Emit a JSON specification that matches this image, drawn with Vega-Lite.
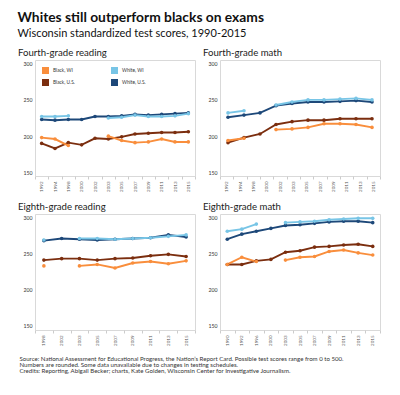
{
  "$schema": "https://vega.github.io/schema/vega-lite/v6.json",
  "padding": {"left": 17, "top": 11, "right": 5, "bottom": 5},
  "background": "white",
  "title": {
    "text": ["Source: National Assessment for Educational Progress, the Nation’s Report Card. Possible test scores range from 0 to 500.", "Numbers are rounded. Some data unavailable due to changes in testing schedules.", "Credits: Reporting, Abigail Becker; charts, Kate Golden, Wisconsin Center for Investigative Journalism."],
    "orient": "bottom", "anchor": "start", "fontSize": 6.1, "lineHeight": 5.8, "fontWeight": "normal", "color": "#333", "offset": 10, "dx": 2
  },
  "data": {"values": [
    {"panel":"4R","group":"Black, U.S.","year":1992,"score":190},{"panel":"4R","group":"Black, U.S.","year":1994,"score":183},{"panel":"4R","group":"Black, U.S.","year":1998,"score":191},{"panel":"4R","group":"Black, U.S.","year":2000,"score":188},{"panel":"4R","group":"Black, U.S.","year":2002,"score":197},{"panel":"4R","group":"Black, U.S.","year":2003,"score":196},{"panel":"4R","group":"Black, U.S.","year":2005,"score":199},{"panel":"4R","group":"Black, U.S.","year":2007,"score":203},{"panel":"4R","group":"Black, U.S.","year":2009,"score":204},{"panel":"4R","group":"Black, U.S.","year":2011,"score":205},{"panel":"4R","group":"Black, U.S.","year":2013,"score":205},{"panel":"4R","group":"Black, U.S.","year":2015,"score":206},
    {"panel":"4R","group":"White, U.S.","year":1992,"score":223},{"panel":"4R","group":"White, U.S.","year":1994,"score":222},{"panel":"4R","group":"White, U.S.","year":1998,"score":223},{"panel":"4R","group":"White, U.S.","year":2000,"score":223},{"panel":"4R","group":"White, U.S.","year":2002,"score":227},{"panel":"4R","group":"White, U.S.","year":2003,"score":227},{"panel":"4R","group":"White, U.S.","year":2005,"score":228},{"panel":"4R","group":"White, U.S.","year":2007,"score":230},{"panel":"4R","group":"White, U.S.","year":2009,"score":229},{"panel":"4R","group":"White, U.S.","year":2011,"score":230},{"panel":"4R","group":"White, U.S.","year":2013,"score":231},{"panel":"4R","group":"White, U.S.","year":2015,"score":232},
    {"panel":"4R","group":"Black, WI","year":1992,"score":198},{"panel":"4R","group":"Black, WI","year":1994,"score":196},{"panel":"4R","group":"Black, WI","year":1998,"score":187},{"panel":"4R","group":"Black, WI","year":2000,"score":null},{"panel":"4R","group":"Black, WI","year":2002,"score":null},{"panel":"4R","group":"Black, WI","year":2003,"score":200},{"panel":"4R","group":"Black, WI","year":2005,"score":194},{"panel":"4R","group":"Black, WI","year":2007,"score":191},{"panel":"4R","group":"Black, WI","year":2009,"score":192},{"panel":"4R","group":"Black, WI","year":2011,"score":196},{"panel":"4R","group":"Black, WI","year":2013,"score":192},{"panel":"4R","group":"Black, WI","year":2015,"score":192},
    {"panel":"4R","group":"White, WI","year":1992,"score":227},{"panel":"4R","group":"White, WI","year":1994,"score":227},{"panel":"4R","group":"White, WI","year":1998,"score":228},{"panel":"4R","group":"White, WI","year":2000,"score":null},{"panel":"4R","group":"White, WI","year":2002,"score":null},{"panel":"4R","group":"White, WI","year":2003,"score":225},{"panel":"4R","group":"White, WI","year":2005,"score":226},{"panel":"4R","group":"White, WI","year":2007,"score":229},{"panel":"4R","group":"White, WI","year":2009,"score":227},{"panel":"4R","group":"White, WI","year":2011,"score":227},{"panel":"4R","group":"White, WI","year":2013,"score":228},{"panel":"4R","group":"White, WI","year":2015,"score":231},
    {"panel":"4M","group":"Black, U.S.","year":1992,"score":191},{"panel":"4M","group":"Black, U.S.","year":1996,"score":198},{"panel":"4M","group":"Black, U.S.","year":2000,"score":203},{"panel":"4M","group":"Black, U.S.","year":2003,"score":216},{"panel":"4M","group":"Black, U.S.","year":2005,"score":220},{"panel":"4M","group":"Black, U.S.","year":2007,"score":222},{"panel":"4M","group":"Black, U.S.","year":2009,"score":222},{"panel":"4M","group":"Black, U.S.","year":2011,"score":224},{"panel":"4M","group":"Black, U.S.","year":2013,"score":224},{"panel":"4M","group":"Black, U.S.","year":2015,"score":224},
    {"panel":"4M","group":"White, U.S.","year":1992,"score":226},{"panel":"4M","group":"White, U.S.","year":1996,"score":229},{"panel":"4M","group":"White, U.S.","year":2000,"score":232},{"panel":"4M","group":"White, U.S.","year":2003,"score":242},{"panel":"4M","group":"White, U.S.","year":2005,"score":245},{"panel":"4M","group":"White, U.S.","year":2007,"score":247},{"panel":"4M","group":"White, U.S.","year":2009,"score":247},{"panel":"4M","group":"White, U.S.","year":2011,"score":248},{"panel":"4M","group":"White, U.S.","year":2013,"score":249},{"panel":"4M","group":"White, U.S.","year":2015,"score":247},
    {"panel":"4M","group":"Black, WI","year":1992,"score":194},{"panel":"4M","group":"Black, WI","year":1996,"score":197},{"panel":"4M","group":"Black, WI","year":2000,"score":null},{"panel":"4M","group":"Black, WI","year":2003,"score":209},{"panel":"4M","group":"Black, WI","year":2005,"score":210},{"panel":"4M","group":"Black, WI","year":2007,"score":212},{"panel":"4M","group":"Black, WI","year":2009,"score":217},{"panel":"4M","group":"Black, WI","year":2011,"score":217},{"panel":"4M","group":"Black, WI","year":2013,"score":216},{"panel":"4M","group":"Black, WI","year":2015,"score":212},
    {"panel":"4M","group":"White, WI","year":1992,"score":232},{"panel":"4M","group":"White, WI","year":1996,"score":235},{"panel":"4M","group":"White, WI","year":2000,"score":null},{"panel":"4M","group":"White, WI","year":2003,"score":243},{"panel":"4M","group":"White, WI","year":2005,"score":247},{"panel":"4M","group":"White, WI","year":2007,"score":250},{"panel":"4M","group":"White, WI","year":2009,"score":250},{"panel":"4M","group":"White, WI","year":2011,"score":251},{"panel":"4M","group":"White, WI","year":2013,"score":252},{"panel":"4M","group":"White, WI","year":2015,"score":250},
    {"panel":"8R","group":"Black, U.S.","year":1998,"score":241},{"panel":"8R","group":"Black, U.S.","year":2002,"score":243},{"panel":"8R","group":"Black, U.S.","year":2003,"score":243},{"panel":"8R","group":"Black, U.S.","year":2005,"score":241},{"panel":"8R","group":"Black, U.S.","year":2007,"score":243},{"panel":"8R","group":"Black, U.S.","year":2009,"score":244},{"panel":"8R","group":"Black, U.S.","year":2011,"score":247},{"panel":"8R","group":"Black, U.S.","year":2013,"score":249},{"panel":"8R","group":"Black, U.S.","year":2015,"score":246},
    {"panel":"8R","group":"White, U.S.","year":1998,"score":268},{"panel":"8R","group":"White, U.S.","year":2002,"score":271},{"panel":"8R","group":"White, U.S.","year":2003,"score":270},{"panel":"8R","group":"White, U.S.","year":2005,"score":269},{"panel":"8R","group":"White, U.S.","year":2007,"score":270},{"panel":"8R","group":"White, U.S.","year":2009,"score":271},{"panel":"8R","group":"White, U.S.","year":2011,"score":272},{"panel":"8R","group":"White, U.S.","year":2013,"score":276},{"panel":"8R","group":"White, U.S.","year":2015,"score":273},
    {"panel":"8R","group":"Black, WI","year":1998,"score":233},{"panel":"8R","group":"Black, WI","year":2002,"score":null},{"panel":"8R","group":"Black, WI","year":2003,"score":233},{"panel":"8R","group":"Black, WI","year":2005,"score":235},{"panel":"8R","group":"Black, WI","year":2007,"score":230},{"panel":"8R","group":"Black, WI","year":2009,"score":237},{"panel":"8R","group":"Black, WI","year":2011,"score":239},{"panel":"8R","group":"Black, WI","year":2013,"score":236},{"panel":"8R","group":"Black, WI","year":2015,"score":240},
    {"panel":"8R","group":"White, WI","year":1998,"score":269},{"panel":"8R","group":"White, WI","year":2002,"score":null},{"panel":"8R","group":"White, WI","year":2003,"score":271},{"panel":"8R","group":"White, WI","year":2005,"score":271},{"panel":"8R","group":"White, WI","year":2007,"score":270},{"panel":"8R","group":"White, WI","year":2009,"score":271},{"panel":"8R","group":"White, WI","year":2011,"score":272},{"panel":"8R","group":"White, WI","year":2013,"score":274},{"panel":"8R","group":"White, WI","year":2015,"score":276},
    {"panel":"8M","group":"Black, U.S.","year":1990,"score":235},{"panel":"8M","group":"Black, U.S.","year":1992,"score":235},{"panel":"8M","group":"Black, U.S.","year":1996,"score":240},{"panel":"8M","group":"Black, U.S.","year":2000,"score":242},{"panel":"8M","group":"Black, U.S.","year":2003,"score":252},{"panel":"8M","group":"Black, U.S.","year":2005,"score":254},{"panel":"8M","group":"Black, U.S.","year":2007,"score":259},{"panel":"8M","group":"Black, U.S.","year":2009,"score":260},{"panel":"8M","group":"Black, U.S.","year":2011,"score":262},{"panel":"8M","group":"Black, U.S.","year":2013,"score":263},{"panel":"8M","group":"Black, U.S.","year":2015,"score":260},
    {"panel":"8M","group":"White, U.S.","year":1990,"score":270},{"panel":"8M","group":"White, U.S.","year":1992,"score":277},{"panel":"8M","group":"White, U.S.","year":1996,"score":281},{"panel":"8M","group":"White, U.S.","year":2000,"score":285},{"panel":"8M","group":"White, U.S.","year":2003,"score":289},{"panel":"8M","group":"White, U.S.","year":2005,"score":290},{"panel":"8M","group":"White, U.S.","year":2007,"score":292},{"panel":"8M","group":"White, U.S.","year":2009,"score":294},{"panel":"8M","group":"White, U.S.","year":2011,"score":295},{"panel":"8M","group":"White, U.S.","year":2013,"score":295},{"panel":"8M","group":"White, U.S.","year":2015,"score":293},
    {"panel":"8M","group":"Black, WI","year":1990,"score":235},{"panel":"8M","group":"Black, WI","year":1992,"score":245},{"panel":"8M","group":"Black, WI","year":1996,"score":239},{"panel":"8M","group":"Black, WI","year":2000,"score":null},{"panel":"8M","group":"Black, WI","year":2003,"score":241},{"panel":"8M","group":"Black, WI","year":2005,"score":245},{"panel":"8M","group":"Black, WI","year":2007,"score":246},{"panel":"8M","group":"Black, WI","year":2009,"score":253},{"panel":"8M","group":"Black, WI","year":2011,"score":255},{"panel":"8M","group":"Black, WI","year":2013,"score":251},{"panel":"8M","group":"Black, WI","year":2015,"score":248},
    {"panel":"8M","group":"White, WI","year":1990,"score":281},{"panel":"8M","group":"White, WI","year":1992,"score":284},{"panel":"8M","group":"White, WI","year":1996,"score":291},{"panel":"8M","group":"White, WI","year":2000,"score":null},{"panel":"8M","group":"White, WI","year":2003,"score":293},{"panel":"8M","group":"White, WI","year":2005,"score":294},{"panel":"8M","group":"White, WI","year":2007,"score":295},{"panel":"8M","group":"White, WI","year":2009,"score":297},{"panel":"8M","group":"White, WI","year":2011,"score":298},{"panel":"8M","group":"White, WI","year":2013,"score":299},{"panel":"8M","group":"White, WI","year":2015,"score":299}
  ]},
  "spacing": 9,
  "vconcat": [
    {
      "title": {"text": "Whites still outperform blacks on exams", "subtitle": "Wisconsin standardized test scores, 1990-2015", "anchor": "start", "fontSize": 13.8, "fontWeight": "bold", "color": "#111", "subtitleFontSize": 11, "subtitleColor": "#111", "subtitlePadding": 3, "offset": 9},
      "spacing": 6,
      "hconcat": [
        {
          "title": {"text": "Fourth-grade reading", "anchor": "start", "fontSize": 9.6, "fontWeight": "normal", "color": "#222", "offset": 2, "dx": -5},
          "width": 160, "height": 116,
          "transform": [{"filter": "datum.panel === '4R'"}],
          "encoding": {
            "x": {"field": "year", "type": "ordinal", "bandPosition": 0.5, "scale": {"type": "band", "paddingInner": 0, "paddingOuter": 0}, "axis": {"title": null}},
            "y": {"field": "score", "type": "quantitative", "scale": {"domain": [145, 305], "nice": false, "zero": false}, "axis": {"title": null, "values": [150, 200, 250, 300]}},
            "color": {"field": "group", "type": "nominal", "scale": {"domain": ["Black, WI", "White, WI", "Black, U.S.", "White, U.S."], "range": ["#f98e3c", "#78c5e6", "#7b2e0f", "#1d4879"]},
              "legend": {"title": null, "orient": "top-left", "offset": 7, "columns": 2, "columnPadding": 36, "rowPadding": 5, "symbolType": "square", "symbolSize": 49, "symbolStrokeWidth": 0, "symbolOpacity": 1, "labelFontSize": 4.8, "labelColor": "#333", "labelOffset": 4, "values": ["Black, WI", "Black, U.S.", "White, WI", "White, U.S."]}}
          },
          "layer": [
            {"mark": {"type": "line", "strokeWidth": 1.9}},
            {"mark": {"type": "point", "filled": true, "size": 13, "opacity": 1}}
          ]
        },
        {
          "title": {"text": "Fourth-grade math", "anchor": "start", "fontSize": 9.6, "fontWeight": "normal", "color": "#222", "offset": 2, "dx": -5},
          "width": 160, "height": 116,
          "layer": [
            {
              "transform": [{"filter": "datum.panel === '4R' && datum.group === 'White, U.S.'"}],
              "mark": {"type": "rule", "opacity": 0},
              "encoding": {"x": {"field": "year", "type": "ordinal", "scale": {"type": "band", "paddingInner": 0, "paddingOuter": 0}, "axis": {"title": null}}}
            },
            {
              "transform": [{"filter": "datum.panel === '4M'"}],
              "encoding": {
                "x": {"field": "year", "type": "ordinal", "bandPosition": 0.5, "scale": {"type": "band", "paddingInner": 0, "paddingOuter": 0}, "axis": null},
                "y": {"field": "score", "type": "quantitative", "scale": {"domain": [145, 305], "nice": false, "zero": false}, "axis": {"title": null, "values": [150, 200, 250, 300]}},
                "color": {"field": "group", "type": "nominal", "scale": {"domain": ["Black, WI", "White, WI", "Black, U.S.", "White, U.S."]}, "legend": null}
              },
              "layer": [
                {"mark": {"type": "line", "strokeWidth": 1.9}},
                {"mark": {"type": "point", "filled": true, "size": 13, "opacity": 1}}
              ]
            }
          ],
          "resolve": {"scale": {"x": "independent"}}
        }
      ],
      "resolve": {"legend": {"color": "independent"}}
    },
    {
      "spacing": 6,
      "hconcat": [
        {
          "title": {"text": "Eighth-grade reading", "anchor": "start", "fontSize": 9.6, "fontWeight": "normal", "color": "#222", "offset": 2, "dx": -5},
          "width": 160, "height": 116,
          "transform": [{"filter": "datum.panel === '8R'"}],
          "encoding": {
            "x": {"field": "year", "type": "ordinal", "bandPosition": 0.5, "scale": {"type": "band", "paddingInner": 0, "paddingOuter": 0}, "axis": {"title": null}},
            "y": {"field": "score", "type": "quantitative", "scale": {"domain": [144, 305], "nice": false, "zero": false}, "axis": {"title": null, "values": [150, 200, 250, 300]}},
            "color": {"field": "group", "type": "nominal", "scale": {"domain": ["Black, WI", "White, WI", "Black, U.S.", "White, U.S."]}, "legend": null}
          },
          "layer": [
            {"mark": {"type": "line", "strokeWidth": 1.9}},
            {"mark": {"type": "point", "filled": true, "size": 13, "opacity": 1}}
          ]
        },
        {
          "title": {"text": "Eighth-grade math", "anchor": "start", "fontSize": 9.6, "fontWeight": "normal", "color": "#222", "offset": 2, "dx": -5},
          "width": 160, "height": 116,
          "transform": [{"filter": "datum.panel === '8M'"}],
          "encoding": {
            "x": {"field": "year", "type": "ordinal", "bandPosition": 0.5, "scale": {"type": "band", "paddingInner": 0, "paddingOuter": 0}, "axis": {"title": null}},
            "y": {"field": "score", "type": "quantitative", "scale": {"domain": [144, 305], "nice": false, "zero": false}, "axis": {"title": null, "values": [150, 200, 250, 300]}},
            "color": {"field": "group", "type": "nominal", "scale": {"domain": ["Black, WI", "White, WI", "Black, U.S.", "White, U.S."]}, "legend": null}
          },
          "layer": [
            {"mark": {"type": "line", "strokeWidth": 1.9}},
            {"mark": {"type": "point", "filled": true, "size": 13, "opacity": 1}}
          ]
        }
      ],
      "resolve": {"legend": {"color": "independent"}}
    }
  ],
  "resolve": {"legend": {"color": "independent"}},
  "config": {
    "font": "Lato",
    "view": {"stroke": "#d9d9d9", "strokeWidth": 1},
    "axisX": {"labelAngle": -90, "labelFontSize": 4.5, "labelColor": "#555", "tickBand": "extent", "tickSize": 3, "tickColor": "#cccccc", "domain": false, "labelPadding": 2, "grid": false},
    "axisY": {"labelFontSize": 5.2, "labelColor": "#333", "ticks": false, "domain": false, "grid": false, "labelPadding": 3}
  }
}
